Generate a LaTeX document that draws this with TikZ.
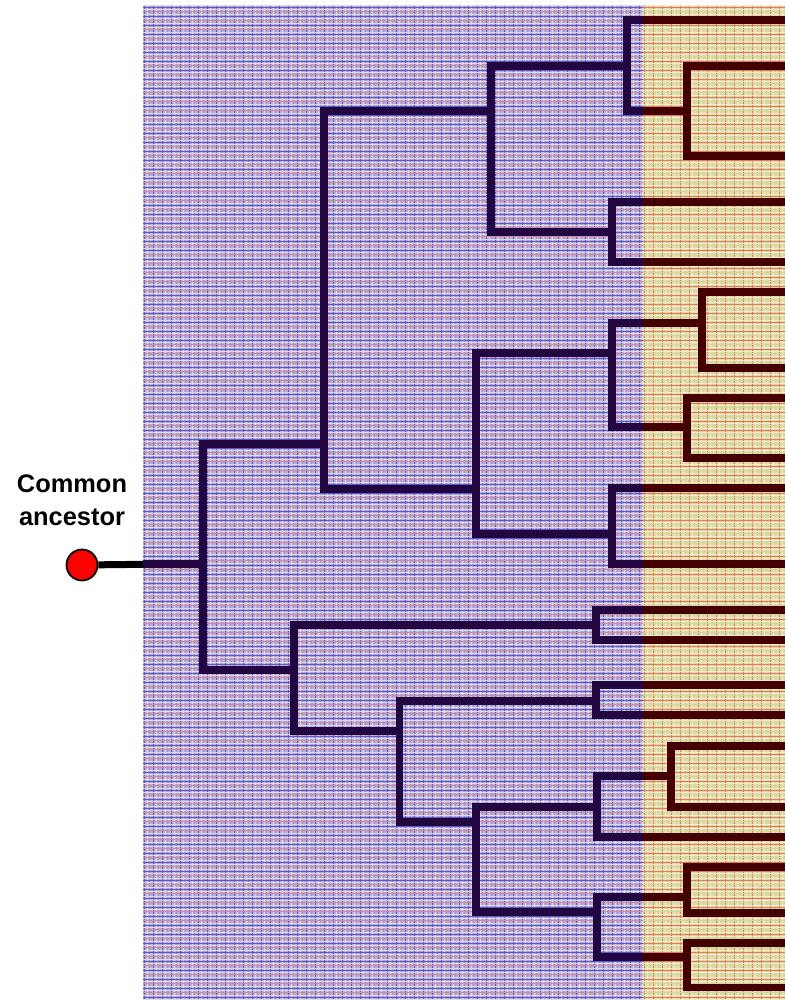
\documentclass[tikz,border=0pt]{standalone}
\usepackage{fontspec}
\setmainfont{Liberation Sans}
\definecolor{leftbase}{HTML}{B4AED8}
\definecolor{lblue}{HTML}{5A58CC}
\definecolor{lred}{HTML}{CC8C9E}
\definecolor{lwhite}{HTML}{DCDAEE}
\definecolor{rbase}{HTML}{E4D8A6}
\definecolor{rred}{HTML}{DC7C58}
\definecolor{rgreen}{HTML}{C8DCA0}
\definecolor{rwhite}{HTML}{F2EACA}
\definecolor{treeL}{HTML}{22063F}
\definecolor{treeR}{HTML}{440000}
\definecolor{ancred}{HTML}{FF0000}
\tikzset{
  branch/.style={line width=7.8bp, line join=miter, line cap=butt},
  ancestor/.style={circle, draw=black, line width=1.8bp, fill=ancred, minimum size=31bp, inner sep=0pt},
  lbl/.style={font=\fontsize{25.5}{33}\selectfont\bfseries, align=center, inner sep=0pt}
}
\newcommand\mytreepaths{%
  \draw[branch] (bgL) -- (r);
  \draw[branch] (r) |- (a);
  \draw[branch] (r) |- (b);
  \draw[branch] (a) |- (a1);
  \draw[branch] (a) |- (a2);
  \draw[branch] (a1) |- (a1a);
  \draw[branch] (a1) |- (a1b);
  \draw[branch] (a1a) |- (l1);
  \draw[branch] (a1a) |- (a1ab);
  \draw[branch] (a1ab) |- (l2);
  \draw[branch] (a1ab) |- (l3);
  \draw[branch] (a1b) |- (l4);
  \draw[branch] (a1b) |- (l5);
  \draw[branch] (a2) |- (a2a);
  \draw[branch] (a2) |- (a2b);
  \draw[branch] (a2a) |- (a2aa);
  \draw[branch] (a2a) |- (a2ab);
  \draw[branch] (a2aa) |- (l6);
  \draw[branch] (a2aa) |- (l7);
  \draw[branch] (a2ab) |- (l8);
  \draw[branch] (a2ab) |- (l9);
  \draw[branch] (a2b) |- (l10);
  \draw[branch] (a2b) |- (l11);
  \draw[branch] (b) |- (b1);
  \draw[branch] (b) |- (b2);
  \draw[branch] (b1) |- (l12);
  \draw[branch] (b1) |- (l13);
  \draw[branch] (b2) |- (b2a);
  \draw[branch] (b2) |- (b2b);
  \draw[branch] (b2a) |- (l14);
  \draw[branch] (b2a) |- (l15);
  \draw[branch] (b2b) |- (b2ba);
  \draw[branch] (b2b) |- (b2bb);
  \draw[branch] (b2ba) |- (b2baa);
  \draw[branch] (b2ba) |- (l18);
  \draw[branch] (b2baa) |- (l16);
  \draw[branch] (b2baa) |- (l17);
  \draw[branch] (b2bb) |- (b2bba);
  \draw[branch] (b2bb) |- (b2bbb);
  \draw[branch] (b2bba) |- (l19);
  \draw[branch] (b2bba) |- (l20);
  \draw[branch] (b2bbb) |- (l21);
  \draw[branch] (b2bbb) |- (l22);
}
\begin{document}
\begin{tikzpicture}[x=1bp,y=-1bp]
\useasboundingbox (0,0) rectangle (785,1000);
% ---------- left plaid background ----------
\fill[leftbase] (143,5) rectangle (643,1000);
\begin{scope}
  \clip (143,5) rectangle (643,1000);
  \foreach \k in {0,9,...,500} {
    \draw[lwhite,line width=1bp] (143+\k+4.5,5) -- (143+\k+4.5,1000);
    \draw[lblue,line width=1bp] (143+\k+1.5,5) -- (143+\k+1.5,1000);
    \draw[lred,line width=1bp] (143+\k+6.5,5) -- (143+\k+6.5,1000);
  }
  \foreach \k in {0,9,...,1000} {
    \draw[lwhite,line width=1bp] (143,5+\k+0.5) -- (643,5+\k+0.5);
    \draw[lwhite,line width=1bp] (143,5+\k+4.5) -- (643,5+\k+4.5);
    \draw[lblue,line width=1bp] (143,5+\k+2.5) -- (643,5+\k+2.5);
    \draw[lred,line width=1bp] (143,5+\k+6.5) -- (643,5+\k+6.5);
  }
\end{scope}
% ---------- right plaid background ----------
\fill[rbase] (643,5) rectangle (785,1000);
\begin{scope}
  \clip (643,5) rectangle (785,1000);
  \foreach \k in {0,9,...,150} {
    \draw[rwhite,line width=1bp] (643+\k+4.5,5) -- (643+\k+4.5,1000);
    \draw[rred,line width=1bp] (643+\k+1.5,5) -- (643+\k+1.5,1000);
    \draw[rgreen,line width=1bp] (643+\k+6.5,5) -- (643+\k+6.5,1000);
  }
  \foreach \k in {0,9,...,1000} {
    \draw[rwhite,line width=1bp] (643,5+\k+0.5) -- (785,5+\k+0.5);
    \draw[rwhite,line width=1bp] (643,5+\k+4.5) -- (785,5+\k+4.5);
    \draw[rred,line width=1bp] (643,5+\k+2.5) -- (785,5+\k+2.5);
    \draw[rgreen,line width=1bp] (643,5+\k+6.5) -- (785,5+\k+6.5);
  }
\end{scope}
% ---------- tree coordinates ----------
\coordinate (bgL) at (143,564.3);
\coordinate (r) at (203,564.3);
\coordinate (a) at (324,444);
\coordinate (b) at (294,670);
\coordinate (a1) at (490.7,110.7);
\coordinate (a2) at (475.7,489.3);
\coordinate (a1a) at (626.7,65.7);
\coordinate (a1b) at (611.7,231.7);
\coordinate (a1ab) at (687.3,110.7);
\coordinate (a2a) at (611.7,352.7);
\coordinate (a2b) at (611.7,534.3);
\coordinate (a2aa) at (702.3,322.7);
\coordinate (a2ab) at (687.3,427.3);
\coordinate (b1) at (596,625);
\coordinate (b2) at (399.5,731);
\coordinate (b2a) at (596,700.7);
\coordinate (b2b) at (475.7,821.7);
\coordinate (b2ba) at (596.7,806.7);
\coordinate (b2baa) at (671,776);
\coordinate (b2bb) at (596.7,911.7);
\coordinate (b2bba) at (687,897);
\coordinate (b2bbb) at (687,957.3);
\coordinate (l1) at (785,20);
\coordinate (l2) at (785,65.7);
\coordinate (l3) at (785,156);
\coordinate (l4) at (785,201.7);
\coordinate (l5) at (785,261.7);
\coordinate (l6) at (785,292.3);
\coordinate (l7) at (785,367.7);
\coordinate (l8) at (785,398.3);
\coordinate (l9) at (785,458.3);
\coordinate (l10) at (785,488.3);
\coordinate (l11) at (785,564.3);
\coordinate (l12) at (785,609.7);
\coordinate (l13) at (785,640.3);
\coordinate (l14) at (785,685);
\coordinate (l15) at (785,715.3);
\coordinate (l16) at (785,746);
\coordinate (l17) at (785,806.7);
\coordinate (l18) at (785,836.7);
\coordinate (l19) at (785,866.7);
\coordinate (l20) at (785,912.7);
\coordinate (l21) at (785,942.7);
\coordinate (l22) at (785,987.5);
% ---------- tree ----------
\begin{scope}[treeL]
  \clip (0,0) rectangle (643,1000);
  \mytreepaths
\end{scope}
\begin{scope}[treeR]
  \clip (643,0) rectangle (785,1000);
  \mytreepaths
\end{scope}
% ---------- common ancestor ----------
\node[ancestor] (anc) at (82,565) {};
\draw[black, line width=7bp] (anc) -- (bgL);
\node[lbl] (anclbl) at (72,500) {Common\\ancestor};
\end{tikzpicture}
\end{document}
